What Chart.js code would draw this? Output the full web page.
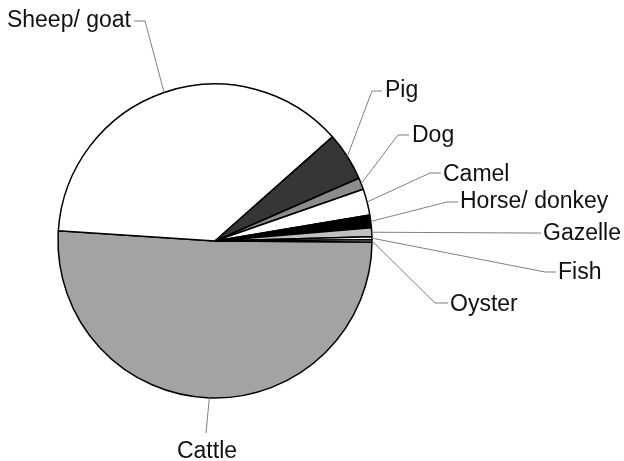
<!DOCTYPE html>
<html>
<head>
<meta charset="utf-8">
<script src="https://cdn.jsdelivr.net/npm/chart.js@4.4.1/dist/chart.umd.min.js"></script>
<style>
  html, body { margin: 0; padding: 0; background: #fff; }
  #wrap { width: 624px; height: 461px; position: relative; }
</style>
</head>
<body>
<div id="wrap"><canvas id="chart"></canvas></div>
<script>
// share of bones per animal, % (read clockwise from the right edge)
const categories = ["Cattle", "Sheep/ goat", "Pig", "Dog", "Camel", "Horse/ donkey", "Gazelle", "Fish", "Oyster"];
const shares = [50.9, 37.4, 5.0, 1.2, 2.7, 1.3, 0.9, 0.3, 0.25];
const sliceColors = ["#a3a3a3", "#ffffff", "#363636", "#8c8c8c", "#ffffff", "#000000", "#c0c0c0", "#ffffff", "#ffffff"];

// leader line layout: elbow point, end of the short tick, text anchor
const labelSpots = [
  { elbow: [206, 433], tick: null, text: [207, 458], align: "center" },
  { elbow: [145, 21], tick: [134, 21], text: [131, 27], align: "right" },
  { elbow: [372, 91], tick: [382, 91], text: [385, 97], align: "left" },
  { elbow: [398, 135], tick: [409, 135], text: [412, 141.5], align: "left" },
  { elbow: [430, 173], tick: [441, 173], text: [443, 180.5], align: "left" },
  { elbow: [447, 202], tick: [458, 202], text: [460, 208], align: "left" },
  { elbow: [530, 233], tick: [541, 233], text: [543, 240], align: "left" },
  { elbow: [545, 272], tick: [556, 272], text: [558, 279], align: "left" },
  { elbow: [435, 303], tick: [448, 303], text: [450, 310.5], align: "left" }
];

const leaderLabels = {
  id: "leaderLabels",
  afterDatasetsDraw(chart) {
    const ctx = chart.ctx;
    const arcs = chart.getDatasetMeta(0).data;
    ctx.save();
    arcs.forEach((arc, i) => {
      const spot = labelSpots[i];
      const p = arc.getProps(["x", "y", "startAngle", "endAngle", "outerRadius"], true);
      const mid = (p.startAngle + p.endAngle) / 2;
      const ex = p.x + Math.cos(mid) * p.outerRadius;
      const ey = p.y + Math.sin(mid) * p.outerRadius;
      ctx.beginPath();
      ctx.strokeStyle = "#808080";
      ctx.lineWidth = 1;
      ctx.moveTo(ex, ey);
      ctx.lineTo(spot.elbow[0], spot.elbow[1]);
      if (spot.tick) ctx.lineTo(spot.tick[0], spot.tick[1]);
      ctx.stroke();

      ctx.fillStyle = "#111";
      ctx.font = "23px 'Liberation Sans', Arial, sans-serif";
      ctx.textAlign = spot.align;
      ctx.textBaseline = "alphabetic";
      ctx.fillText(chart.data.labels[i], spot.text[0], spot.text[1]);
    });
    ctx.restore();
  }
};

new Chart(document.getElementById("chart"), {
  type: "pie",
  data: {
    labels: categories,
    datasets: [{
      data: shares,
      backgroundColor: sliceColors,
      borderColor: "#000",
      borderWidth: 1.5
    }]
  },
  options: {
    responsive: true,
    maintainAspectRatio: false,
    animation: false,
    rotation: 90.4,
    radius: 157,
    layout: { padding: { left: 50, right: 244, top: 62, bottom: 41 } },
    plugins: {
      legend: { display: false },
      tooltip: { enabled: false }
    }
  },
  plugins: [leaderLabels]
});
</script>
</body>
</html>
